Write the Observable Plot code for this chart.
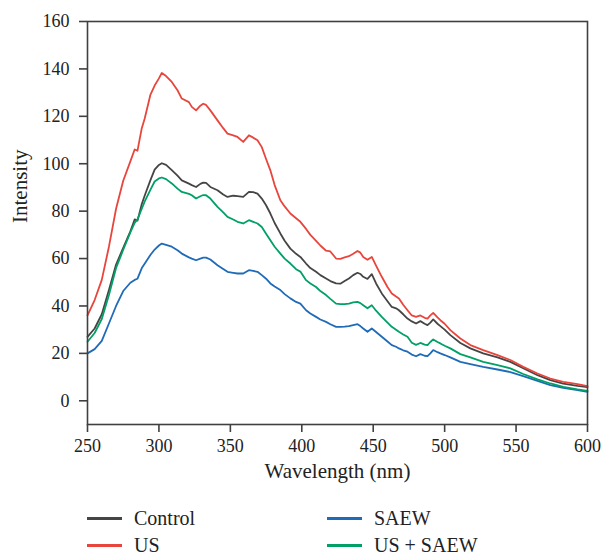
<!DOCTYPE html>
<html><head><meta charset="utf-8">
<script src="https://cdn.jsdelivr.net/npm/d3@7"></script>
<script src="https://cdn.jsdelivr.net/npm/@observablehq/plot@0.6"></script>
<style>
body{margin:0;background:#fff;font-family:"Liberation Serif","Times New Roman",serif;}
#legend{position:relative;width:603px;height:59px;font-size:20px;color:#222}
.item{position:absolute;display:flex;align-items:center;height:24px;transform:translateY(-50%)}
.sw{width:35px;height:3px;margin-right:12px}
</style></head><body>
<div id="chart"></div>
<div id="legend"></div>
<script>
const seriesNames = ["Control", "US", "SAEW", "US + SAEW"];
const seriesColors = ["#454545", "#e8453c", "#1f6bb8", "#00a066"];
const xTicks = [250, 300, 350, 400, 450, 500, 550, 600];
const yTicks = [0, 20, 40, 60, 80, 100, 120, 140, 160];

const wavelength = [
  250,255,260,265,270,275,280,283,285,288,
  290,294,297,300,302,305,309,313,316,321,
  323,326,329,331,333,336,341,345,348,352,
  355,359,363,366,369,372,375,378,381,385,
  388,392,396,399,403,406,410,413,417,420,
  424,427,430,433,436,439,441,443,446,449,
  452,456,460,463,466,468,471,474,477,480,
  483,486,488,490,492,495,497,500,504,511,
  518,527,537,546,555,565,574,583,593,600];

const control = [
  27,30.5,36.5,46.7,57.5,64.5,71.5,76.5,76,83,
  86.5,93,97.5,99.5,100.2,99.5,97.3,95,93,91.6,
  91,90.2,91.5,92,91.9,90.2,88.8,87,86,86.5,
  86.3,86,88.1,88,87.4,85.3,82.5,79,75,70.6,
  67.5,64.2,62,60.7,57.9,56,54.4,53,51.6,50.5,
  49.5,49.4,50.5,51.6,53,54,53.5,52.3,51.4,53.4,
  49.5,45.3,42,39.6,39,38.2,36.5,34.7,33.5,32.6,
  33.6,32.5,31.9,33,34.3,32.5,31.5,30,27.7,24.4,
  22.1,20,18.3,16.4,13.7,10.8,8.7,7.2,6.3,5.8];

const us = [
  36,42.5,51,65,81,92.8,101,106,105.5,115,
  119,129,133,136,138.3,137,134.5,131,127.5,126,
  124,122.5,124.5,125.3,124.8,122.5,118.3,115,112.7,112,
  111.3,109.2,112,111,109.9,107,102,97.2,91,84.6,
  82,79,77,75.5,72.5,70,67.5,65.5,63.3,63,
  60,59.9,60.5,61,62,63.2,62.5,60.7,59.5,60.7,
  57,52.3,48,45.3,44,43.2,40.5,38.2,36,35.4,
  36,35,34.7,36,37.1,35.2,34,32.5,29.8,26.3,
  23.5,21.4,19.3,17.2,14.3,11.5,9.4,8,7,6.2];

const saew = [
  20,21.8,25.3,32.6,40,46.3,49.8,51,51.5,56,
  57.8,61.5,63.8,65.5,66.3,65.8,65,63.5,62.1,60.5,
  60,59.3,60,60.4,60.4,59.6,57.2,55.6,54.4,54,
  53.7,53.7,55.1,54.8,54.4,53,51.5,49.5,48.2,46.7,
  45,43.2,41.7,41,38.2,36.8,35.4,34.3,33.3,32.3,
  31.2,31.2,31.3,31.5,31.9,32.3,31.5,30.5,29.1,30.5,
  29,27,25,23.5,22.8,22.1,21.3,20.7,19.5,18.8,
  19.7,19,18.8,20,21.4,20.5,20,19.3,18.3,16.4,
  15.5,14.3,13.2,12.1,10.4,8.4,6.6,5.5,4.5,3.8];

const usSaew = [
  24.9,28.6,34.5,44.6,56,63.7,71,75,76.5,81,
  84,89,92.5,93.8,94.2,93.5,91.7,89.5,88.1,87.3,
  86.7,85.3,86.3,86.8,86.7,85.3,81.8,79.5,77.6,76.5,
  75.5,74.8,76.2,75.5,74.8,73.3,70.5,67.7,65,62.1,
  60,57.9,55.5,54.5,50.9,49.5,48,46.3,44.6,43,
  41,40.8,40.8,41,41.5,41.7,41.2,40.3,39,40.3,
  38,35.4,33,31.2,30,29.1,28,27,24.5,23.6,
  24.4,23.7,23.5,24.8,25.9,24.8,24.2,23.2,22.1,19.7,
  18.3,16.4,15,13.7,11.3,9,7.3,5.9,4.8,4.2];

const seriesValues = [control, us, saew, usSaew];
const rows = [];
seriesNames.forEach((name, k) => {
  wavelength.forEach((w, i) => rows.push({w, v: seriesValues[k][i], name}));
});

const font = "'Liberation Serif', 'Times New Roman', serif";
const chart = Plot.plot({
  width: 603, height: 495,
  marginLeft: 87, marginRight: 16, marginTop: 21, marginBottom: 71,
  style: {fontFamily: font, fontSize: "18px", color: "#222", background: "#fff"},
  x: {domain: [250, 600]},
  y: {domain: [-10, 160]},
  color: {domain: seriesNames, range: seriesColors},
  marks: [
    Plot.line(rows, {x: "w", y: "v", z: "name", stroke: "name", strokeWidth: 1.8}),
    Plot.frame({stroke: "#404040", strokeWidth: 1.6}),
    Plot.axisX({ticks: xTicks, tickSize: 8, tickPadding: 7, label: null, stroke: "#404040", strokeWidth: 1.6, fontSize: 18, fontFamily: font}),
    Plot.axisY({ticks: yTicks, tickSize: 8, tickPadding: 10, label: null, stroke: "#404040", strokeWidth: 1.6, fontSize: 18, fontFamily: font}),
    Plot.text(["Wavelength (nm)"], {frameAnchor: "bottom", dy: 53, fontSize: 21, fontFamily: font, fill: "#222"}),
    Plot.text(["Intensity"], {frameAnchor: "left", dx: -67, rotate: -90, fontSize: 21, fontFamily: font, fill: "#222"})
  ]
});
document.getElementById("chart").appendChild(chart);

const legend = document.getElementById("legend");
const pos = [[87, 23], [87, 50], [327, 23], [327, 50]];
seriesNames.forEach((name, k) => {
  const it = document.createElement("div");
  it.className = "item";
  it.style.left = pos[k][0] + "px";
  it.style.top = pos[k][1] + "px";
  it.innerHTML = `<span class="sw" style="background:${seriesColors[k]}"></span><span>${name}</span>`;
  legend.appendChild(it);
});
</script>
</body></html>
